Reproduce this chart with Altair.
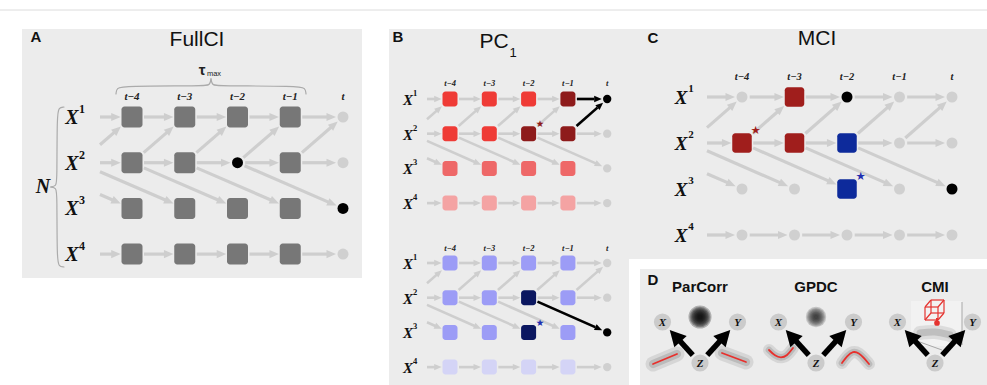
import math
import altair as alt
import pandas as pd

W, H = 987, 385

# ---------------- data ----------------
LAG_LABELS = ["t−4", "t−3", "t−2", "t−1", "t"]
LAGS = [4, 3, 2, 1, 0]
VARIABLES = [1, 2, 3, 4]
# causal links of the example process: (source variable, target variable, lag)
LINKS = [(1, 1, 1), (2, 1, 1), (2, 2, 1), (2, 3, 2), (4, 4, 1)]

# node roles per panel, keyed by (variable, lag)
ROLES_FULLCI = {(2, 2): "tested", (3, 0): "target"}
ROLES_PC_X1 = {(1, 1): "parent", (2, 2): "parent", (2, 1): "parent", (1, 0): "target"}
ROLES_PC_X3 = {(2, 2): "parent", (3, 2): "parent", (3, 0): "target"}
ROLES_MCI = {(1, 3): "condX", (2, 4): "condX", (2, 3): "condX",
             (2, 2): "condY", (3, 2): "condY", (1, 2): "target", (3, 0): "target"}

# detected parent links (source node -> target node)
FOUND_PC_X1 = [((1, 1), (1, 0)), ((2, 1), (1, 0))]
FOUND_PC_X3 = [((2, 2), (3, 0))]
# starred nodes
STARS_PC_X1 = [(2, 2)]
STARS_PC_X3 = [(3, 2)]
STARS_MCI = [(2, 4), (3, 2)]

TESTS = ["ParCorr", "GPDC", "CMI"]
TEST_VARS = ["X", "Y", "Z"]
# sampled dependence curves of the test sketches (offsets from test centre / node row)
DEP_CURVES = {
    "ParCorr": [[(-47, 42), (-23, 32)], [(22, 31), (46, 40)]],
    "GPDC": [[(-47, 28), (-41, 34), (-35, 36), (-29, 34), (-23, 26)],
             [(26, 41), (31, 34), (37, 29), (43, 31), (48, 36), (53, 42)]],
}

# ---------------- layout & style ----------------
LIGHT = "#d0d0d0"
ARROW = "#cecece"
BG = "#ececec"

PANELS = [
    dict(style="fullci", roles=ROLES_FULLCI, x0=132, dx=52.75, y0=117, dy=45.7, sq=21, r=6.2,
         lw=3.2, head=9.5, stub=32, lab_x=72, lab_size=20, sup_size=12, sup_dx=10, sup_dy=-8,
         col_y=97, col_size=11, found=[], stars=[], star_col=None),
    dict(style="pc", roles=ROLES_PC_X1, x0=450, dx=39.3, y0=99, dy=34.7, sq=15, r=4.7,
         lw=2.6, head=7.5, stub=23, lab_x=408, lab_size=15, sup_size=8.5, sup_dx=7, sup_dy=-6,
         col_y=83, col_size=8.5, found=FOUND_PC_X1, stars=STARS_PC_X1, star_col="#8e1b1b",
         rowcol={1: "#ef3b36", 2: "#ef3b36", 3: "#ee6868", 4: "#f4a3a3"}, parent="#8e1b1b"),
    dict(style="pc", roles=ROLES_PC_X3, x0=450, dx=39.3, y0=263, dy=34.7, sq=15, r=4.7,
         lw=2.6, head=7.5, stub=23, lab_x=408, lab_size=15, sup_size=8.5, sup_dx=7, sup_dy=-6,
         col_y=248, col_size=8.5, found=FOUND_PC_X3, stars=STARS_PC_X3, star_col="#1f2fb0",
         rowcol={1: "#9c9cf6", 2: "#9c9cf6", 3: "#9c9cf6", 4: "#d4d4f6"}, parent="#0b1760"),
    dict(style="mci", roles=ROLES_MCI, x0=742, dx=52.5, y0=97, dy=46, sq=19.5, r=6.2,
         lw=3.2, head=9.5, stub=35, lab_x=681, lab_size=19, sup_size=11, sup_dx=10, sup_dy=-8,
         col_y=77, col_size=10.5, found=[], stars=STARS_MCI, star_col=None),
]


def pos(p, v, lag):
    return p["x0"] + (4 - lag) * p["dx"], p["y0"] + (v - 1) * p["dy"]


def node_style(p, v, lag):
    role = p["roles"].get((v, lag), "past" if lag > 0 else "now")
    if role in ("target", "tested"):
        return "dot", "#000000"
    if role == "now":
        return "dot", LIGHT
    if p["style"] == "fullci":
        return "square", "#777777"
    if p["style"] == "pc":
        return "square", (p["parent"] if role == "parent" else p["rowcol"][v])
    if role == "condX":
        return "square", "#a01e1c"
    if role == "condY":
        return "square", "#0d2a9b"
    return "dot", LIGHT


def clip(p, shape, ux, uy):
    if shape == "square":
        return (p["sq"] / 2) / max(abs(ux), abs(uy))
    return p["r"]


rules, heads, dheads = [], [], []
rects, dots, stars = [], [], []
txt_serif, txt_sup, txt_sans, txt_sans_b = [], [], [], []
lines = []


def arrow(x1, y1, tx, ty, ux, uy, color, lw, head, store):
    ex, ey = tx - ux * head * 0.6, ty - uy * head * 0.6
    rules.append(dict(x=x1, y=y1, x2=ex, y2=ey, color=color, w=lw))
    store.append(dict(x=tx, y=ty, color=color, sz=head * head,
                      ang=math.degrees(math.atan2(uy, ux)) % 360))


for p in PANELS:
    # links of the process
    def edge(src, dst, color, lw):
        (sv, sl), (tv, tl) = src, dst
        sx, sy = pos(p, sv, sl)
        tx, ty = pos(p, tv, tl)
        dx, dy = tx - sx, ty - sy
        L = math.hypot(dx, dy)
        ux, uy = dx / L, dy / L
        tshape, _ = node_style(p, tv, tl)
        if sl > 4:
            f = (p["x0"] - p["stub"] - sx) / dx
            x1, y1 = sx + f * dx, sy + f * dy
        else:
            sshape, _ = node_style(p, sv, sl)
            d = clip(p, sshape, ux, uy) + 1.5
            x1, y1 = sx + ux * d, sy + uy * d
        d = clip(p, tshape, ux, uy) + 0.8
        arrow(x1, y1, tx - ux * d, ty - uy * d, ux, uy, color, lw, p["head"], heads)

    for (s, t, tau) in LINKS:
        for lag in LAGS:
            edge((s, lag + tau), (t, lag), ARROW, p["lw"])
    for src, dst in p["found"]:
        edge(src, dst, "#000000", p["lw"])

    # nodes
    for v in VARIABLES:
        for lag in LAGS:
            x, y = pos(p, v, lag)
            shape, color = node_style(p, v, lag)
            if shape == "square":
                h = p["sq"] / 2
                rects.append(dict(x=x - h, x2=x + h, y=y - h, y2=y + h, color=color))
            else:
                dots.append(dict(x=x, y=y, color=color, sz=math.pi * p["r"] ** 2, op=1))
    for (v, lag) in p["stars"]:
        x, y = pos(p, v, lag)
        _, color = node_style(p, v, lag)
        sc = p["star_col"] or ("#a01e1c" if color == "#a01e1c" else "#1f2fb0")
        stars.append(dict(x=x + p["sq"] / 2 + 4, y=y - p["sq"] / 2 - 2, text="★",
                          size=p["col_size"] + 1, color=sc))

    # labels
    for v in VARIABLES:
        _, y = pos(p, v, 0)
        txt_serif.append(dict(x=p["lab_x"], y=y + 1, text="X", size=p["lab_size"], color="#111"))
        txt_sup.append(dict(x=p["lab_x"] + p["sup_dx"], y=y + p["sup_dy"], text=str(v),
                            size=p["sup_size"], color="#111"))
    for lag, lab in zip(LAGS, LAG_LABELS):
        x, _ = pos(p, 1, lag)
        txt_serif.append(dict(x=x, y=p["col_y"], text=lab, size=p["col_size"], color="#222"))

# titles and panel letters
txt_sans += [
    dict(x=197, y=40, text="FullCI", size=21, color="#111"),
    dict(x=494, y=42, text="PC", size=21, color="#111"),
    dict(x=513, y=53, text="1", size=13, color="#111"),
    dict(x=817, y=39, text="MCI", size=21, color="#111"),
    dict(x=214, y=74, text="max", size=7.5, color="#222"),
]
txt_sans_b += [
    dict(x=36, y=37, text="A", size=15, color="#111"),
    dict(x=398, y=37, text="B", size=15, color="#111"),
    dict(x=653, y=38, text="C", size=15, color="#111"),
    dict(x=653, y=280, text="D", size=15, color="#111"),
    dict(x=202, y=70, text="τ", size=15, color="#222"),
]
txt_serif.append(dict(x=43, y=187, text="N", size=20, color="#111"))


# braces of panel A
def brace(a, b, depth):
    m = (a + b) / 2
    s = 1 if b > a else -1
    segs = []
    for end in (a, b):
        k = 1 if end == a else -1
        pts = [(end, depth), (end + k * s * 0.5, depth * 0.25), (end + k * s * 8, 0),
               (m - k * s * 7, 0), (m - k * s * 1, -depth * 0.1), (m, -depth * 0.9)]
        segs.append(pts)
    return segs


bid = 0
for seg in brace(116, 306, 8):
    for k, (u, w) in enumerate(seg):
        lines.append(dict(id=f"b{bid}", k=k, x=u, y=86 + w, color="#ababab", w=1.2, op=1))
    bid += 1
for seg in brace(107, 267, 7):
    for k, (u, w) in enumerate(seg):
        lines.append(dict(id=f"b{bid}", k=k, x=57 + w, y=u, color="#ababab", w=1.2, op=1))
    bid += 1

# ---------------- panel D: conditional independence tests ----------------
D_CX = [700, 816, 935]
D_ROW, D_Z, D_OFF, D_R = 322, 363, 37.5, 9.7
d_nodes, d_rects, d_rules, blobs = [], [], [], []
for name, cx in zip(TESTS, D_CX):
    txt_sans_b.append(dict(x=cx, y=287, text=name, size=15, color="#111"))
    node_xy = {"X": (cx - D_OFF, D_ROW), "Y": (cx + D_OFF, D_ROW), "Z": (cx, D_Z)}
    for nm in TEST_VARS:
        nx, ny = node_xy[nm]
        d_nodes.append(dict(x=nx, y=ny, color="#cbcbcb", sz=math.pi * D_R ** 2, op=1))
        txt_serif.append(dict(x=nx, y=ny + 1, text=nm, size=11, color="#111"))
    zx, zy = node_xy["Z"]
    for nm in ("X", "Y"):
        nx, ny = node_xy[nm]
        dx, dy = nx - zx, ny - zy
        L = math.hypot(dx, dy)
        ux, uy = dx / L, dy / L
        arrow(zx + ux * (D_R + 1), zy + uy * (D_R + 1), nx - ux * (D_R + 1), ny - uy * (D_R + 1),
              ux, uy, "#000000", 5.5, 16, dheads)

# dense joint clouds of the two independent variables (stacked soft discs)
for cx, rmax, colr, op in ((700, 13, "#0a0a0a", 0.27), (816, 11.5, "#222222", 0.2)):
    r = rmax
    while r > 2:
        blobs.append(dict(x=cx, y=317, color=colr, sz=math.pi * r * r, op=op))
        r -= 1.3

# dependence sketches: scatter bands with the fitted red curves
cid = 0
for name, cx in zip(TESTS[:2], D_CX[:2]):
    wide = 15 if name == "ParCorr" else 12
    for curve in DEP_CURVES[name]:
        for colr, w, op in (("#b0b0b0", wide, 0.35), ("#8a8a8a", wide * 0.55, 0.35), ("#e8302c", 1.8, 1)):
            for k, (ox, oy) in enumerate(curve):
                lines.append(dict(id=f"c{cid}", k=k, x=cx + ox, y=D_ROW + oy, color=colr, w=w, op=op))
            cid += 1

# CMI: 3D scatter with the nearest-neighbour cube
cmi = D_CX[2]
d_rects.append(dict(x=cmi - 24, x2=cmi + 27, y=301, y2=346, color="#ffffff", op=0.3))
for (a, b) in (((cmi + 27, 302), (cmi + 27, 345)), ((cmi - 18, 341), (cmi + 7, 350))):
    d_rules.append(dict(x=a[0], y=a[1], x2=b[0], y2=b[1], color="#a8a8a8", w=1))
for colr, w, op in (("#b5b5b5", 14, 0.35), ("#8a8a8a", 7, 0.35)):
    for k, (ox, oy) in enumerate([(-15, 11), (0, 9), (15, 13)]):
        lines.append(dict(id=f"c{cid}", k=k, x=cmi + ox, y=D_ROW + oy, color=colr, w=w, op=op))
    cid += 1
CUBE = [(0, 0), (1, 0), (1, 1), (0, 1)]
fx, fy, side, bx, by = cmi - 10, 307, 13, 6, -7
for i in range(4):
    (a0, a1), (b0, b1) = CUBE[i], CUBE[(i + 1) % 4]
    for ox, oy in ((0, 0), (bx, by)):
        d_rules.append(dict(x=fx + ox + a0 * side, y=fy + oy + a1 * side,
                            x2=fx + ox + b0 * side, y2=fy + oy + b1 * side, color="#e5332f", w=1.2))
    d_rules.append(dict(x=fx + a0 * side, y=fy + a1 * side,
                        x2=fx + bx + a0 * side, y2=fy + by + a1 * side, color="#e5332f", w=1.2))
d_rules.append(dict(x=cmi + 2, y=318, x2=cmi + 2, y2=323, color="#e5332f", w=2))
d_nodes.append(dict(x=cmi + 2, y=323, color="#e5332f", sz=math.pi * 3.2 ** 2, op=1))

# ---------------- backgrounds ----------------
backs = pd.DataFrame([
    dict(x=22, x2=362, y=29, y2=278, color=BG, op=1),
    dict(x=389, x2=W, y=29, y2=H, color=BG, op=1),
    dict(x=629, x2=W, y=259, y2=H, color="#ffffff", op=1),
    dict(x=640, x2=W, y=269, y2=H, color=BG, op=1),
] + d_rects)

# ---------------- chart ----------------
XS = alt.Scale(domain=[0, W], range=[0, W], nice=False, zero=False)
YS = alt.Scale(domain=[0, H], range=[0, H], nice=False, zero=False)
ex = alt.X("x:Q", scale=XS, axis=None)
ey = alt.Y("y:Q", scale=YS, axis=None)
col = alt.Color("color:N", scale=None)

bg = alt.Chart(backs).mark_rect().encode(
    x=ex, x2="x2:Q", y=ey, y2="y2:Q", color=col, opacity=alt.Opacity("op:Q", scale=None))

topline = alt.Chart(pd.DataFrame([dict(x=0, x2=W, y=10, y2=10)])).mark_rule(
    color="#dcdcdc", strokeWidth=1).encode(x=ex, x2="x2:Q", y=ey, y2="y2:Q")

curves = alt.Chart(pd.DataFrame(lines)).mark_line(interpolate="basis", strokeCap="round").encode(
    x=ex, y=ey, detail="id:N", order="k:Q", color=col,
    strokeWidth=alt.StrokeWidth("w:Q", scale=None), opacity=alt.Opacity("op:Q", scale=None))


def rule_layer(df):
    return alt.Chart(pd.DataFrame(df)).mark_rule(strokeCap="butt").encode(
        x=ex, x2="x2:Q", y=ey, y2="y2:Q", color=col,
        strokeWidth=alt.StrokeWidth("w:Q", scale=None))


def head_layer(df, path):
    return alt.Chart(pd.DataFrame(df)).mark_point(shape=path, filled=True, opacity=1, strokeWidth=0).encode(
        x=ex, y=ey, color=col, size=alt.Size("sz:Q", scale=None),
        angle=alt.Angle("ang:Q", scale=None))


squares = alt.Chart(pd.DataFrame(rects)).mark_rect(cornerRadius=3).encode(
    x=ex, x2="x2:Q", y=ey, y2="y2:Q", color=col)


def dot_layer(df):
    return alt.Chart(pd.DataFrame(df)).mark_circle(strokeWidth=0).encode(
        x=ex, y=ey, color=col, size=alt.Size("sz:Q", scale=None),
        opacity=alt.Opacity("op:Q", scale=None))


def text_layer(df, font, style="normal", weight="normal"):
    return alt.Chart(pd.DataFrame(df)).mark_text(
        font=font, fontStyle=style, fontWeight=weight, align="center", baseline="middle").encode(
        x=ex, y=ey, text="text:N", size=alt.Size("size:Q", scale=None), color=col)


chart = alt.layer(
    bg,
    topline,
    dot_layer(blobs),
    curves,
    rule_layer(d_rules),
    rule_layer(rules),
    head_layer(heads, "M0,0 L-2,-0.85 L-2,0.85 Z"),
    head_layer(dheads, "M0,0 L-2,-1.05 L-2,1.05 Z"),
    squares,
    dot_layer(dots),
    dot_layer(d_nodes),
    text_layer(stars, "DejaVu Sans"),
    text_layer(txt_serif, "Liberation Serif", "italic", "bold"),
    text_layer(txt_sup, "Liberation Serif", "normal", "bold"),
    text_layer(txt_sans, "Liberation Sans"),
    text_layer(txt_sans_b, "Liberation Sans", "normal", "bold"),
).properties(
    width=W, height=H, padding=0, autosize="none", background="white"
).configure_view(stroke=None)

chart.save("out.html", embed_options={"renderer": "svg", "actions": False})
